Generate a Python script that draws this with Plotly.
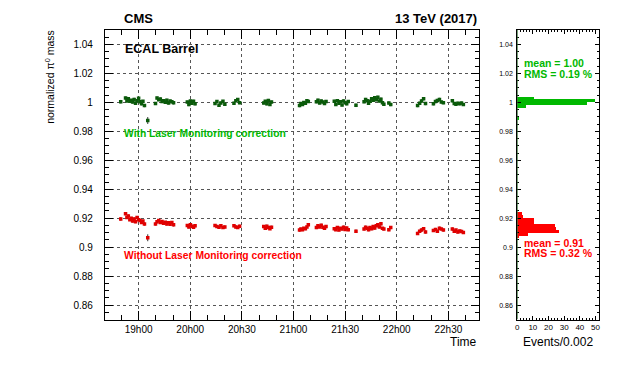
import plotly.graph_objects as go

# minutes after the first "19h00" tick; the tick labels are copied as printed
tick_minutes = [0, 30, 60, 90, 120, 150, 180]
tick_labels = ["19h00", "20h00", "20h30", "21h00", "21h30", "22h00", "22h30"]

time_min = [
    -10.4,
    -7.6, -6.8, -6.0, -5.1, -4.3, -3.5, -2.6, -1.8, -0.9, 0.0, 0.8, 1.7, 2.5, 3.4,
    5.3,
    9.8, 10.7, 11.7, 12.6, 13.6, 14.5, 15.5, 16.4, 17.4, 18.3, 19.3, 20.3,
    28.3, 29.2, 30.1, 31.0, 31.9, 32.8,
    44.4, 45.5, 46.7, 47.8, 49.0, 50.1,
    55.4, 56.5, 57.6, 58.7,
    72.7, 73.6, 74.5, 75.4, 76.3, 77.2,
    93.5, 94.3, 95.2, 96.0, 96.9, 97.8, 98.6,
    103.3, 104.2, 105.2, 106.1, 107.1, 108.0, 108.9,
    113.7, 114.6, 115.5, 116.4, 117.3, 118.2, 119.1, 120.0, 120.9, 121.8,
    126.3,
    131.0, 131.9, 132.8, 133.6, 134.5, 135.4, 136.3, 137.2, 138.1, 139.0, 139.9, 140.8, 141.7, 142.5,
    145.4, 146.5,
    162.1, 163.3, 164.4, 165.6, 166.7,
    171.3, 172.5, 173.6, 174.8, 175.9, 177.1,
    182.3, 183.4, 184.4, 185.5, 186.6, 187.6, 188.7,
]

mass_corrected = [
    1.0005,
    1.0030, 1.0010, 1.0025, 1.0008, 1.0015, 1.0002, 1.0020, 0.9995, 1.0012, 1.0028, 1.0004, 0.9990, 1.0008, 0.9978,
    0.9875,
    0.9992, 1.0030, 1.0018, 1.0024, 1.0006, 1.0012, 1.0001, 1.0015, 0.9996, 1.0010, 1.0004, 0.9998,
    1.0002, 0.9985, 1.0010, 0.9995, 1.0008, 0.9990,
    0.9992, 1.0006, 0.9980, 0.9996, 1.0008, 0.9988,
    0.9995, 1.0012, 1.0020, 0.9998,
    0.9996, 1.0008, 0.9990, 1.0014, 0.9985, 1.0002,
    0.9978, 0.9992, 0.9985, 1.0000, 0.9994, 1.0012, 1.0006,
    1.0004, 1.0015, 0.9996, 1.0010, 1.0002, 0.9992, 1.0006,
    1.0008, 0.9985, 1.0012, 0.9994, 1.0004, 0.9982, 1.0010, 0.9998, 0.9990, 1.0006,
    0.9980,
    1.0004, 1.0020, 1.0012, 0.9995, 1.0008, 1.0026, 1.0015, 1.0032, 1.0018, 1.0035, 1.0010, 1.0022, 0.9998, 0.9988,
    0.9996, 0.9985,
    0.9978, 0.9995, 1.0010, 1.0025, 0.9992,
    0.9990, 1.0006, 1.0014, 1.0020, 1.0002, 0.9998,
    1.0012, 0.9992, 0.9988, 0.9994, 0.9990, 0.9996, 0.9986,
]

mass_uncorrected = [
    0.9195,
    0.9230, 0.9205, 0.9215, 0.9190, 0.9200, 0.9180, 0.9195, 0.9175, 0.9205, 0.9190, 0.9185, 0.9170, 0.9180, 0.9160,
    0.9065,
    0.9160, 0.9175, 0.9185, 0.9170, 0.9178, 0.9165, 0.9172, 0.9160, 0.9168, 0.9158, 0.9170, 0.9155,
    0.9150, 0.9140, 0.9155, 0.9145, 0.9138, 0.9148,
    0.9150, 0.9142, 0.9138, 0.9148, 0.9135, 0.9140,
    0.9148, 0.9140, 0.9135, 0.9145,
    0.9142, 0.9130, 0.9145, 0.9135, 0.9128, 0.9138,
    0.9118, 0.9125, 0.9120, 0.9130, 0.9128, 0.9140, 0.9155,
    0.9135, 0.9148, 0.9140, 0.9152, 0.9138, 0.9130, 0.9142,
    0.9128, 0.9120, 0.9135, 0.9118, 0.9130, 0.9125, 0.9138, 0.9122, 0.9132, 0.9120,
    0.9110,
    0.9125, 0.9138, 0.9130, 0.9120, 0.9135, 0.9128, 0.9142, 0.9132, 0.9148, 0.9155, 0.9140, 0.9162, 0.9130, 0.9125,
    0.9120, 0.9135,
    0.9095, 0.9110, 0.9118, 0.9128, 0.9105,
    0.9115, 0.9122, 0.9110, 0.9130, 0.9125, 0.9118,
    0.9125, 0.9110, 0.9118, 0.9105, 0.9112, 0.9108, 0.9102,
]

mass_error = [
    0.0012,
    0.0010, 0.0009, 0.0011, 0.0010, 0.0009, 0.0010, 0.0012, 0.0009, 0.0010, 0.0011, 0.0009, 0.0010, 0.0009, 0.0011,
    0.0024,
    0.0010, 0.0011, 0.0009, 0.0010, 0.0009, 0.0010, 0.0009, 0.0011, 0.0010, 0.0009, 0.0010, 0.0012,
    0.0010, 0.0011, 0.0009, 0.0010, 0.0010, 0.0011,
    0.0010, 0.0009, 0.0011, 0.0010, 0.0009, 0.0010,
    0.0010, 0.0011, 0.0009, 0.0010,
    0.0010, 0.0009, 0.0011, 0.0010, 0.0009, 0.0010,
    0.0011, 0.0010, 0.0009, 0.0010, 0.0011, 0.0009, 0.0010,
    0.0010, 0.0011, 0.0009, 0.0010, 0.0009, 0.0010, 0.0011,
    0.0010, 0.0009, 0.0011, 0.0010, 0.0009, 0.0010, 0.0011, 0.0009, 0.0010, 0.0010,
    0.0012,
    0.0010, 0.0011, 0.0009, 0.0010, 0.0009, 0.0011, 0.0010, 0.0012, 0.0009, 0.0011, 0.0010, 0.0012, 0.0009, 0.0010,
    0.0010, 0.0011,
    0.0011, 0.0010, 0.0012, 0.0010, 0.0011,
    0.0010, 0.0011, 0.0010, 0.0012, 0.0009, 0.0010,
    0.0011, 0.0010, 0.0009, 0.0011, 0.0010, 0.0009, 0.0010,
]

# projections, 0.002 wide bins
bins_corrected = [0.989, 0.997, 0.999, 1.001, 1.003]
events_corrected = [1, 6, 45, 50, 11]
bins_uncorrected = [0.907, 0.909, 0.911, 0.913, 0.915, 0.917, 0.919, 0.921, 0.923]
events_uncorrected = [1, 7, 27, 25, 24, 11, 11, 4, 3]

FONT = "Liberation Sans, Arial, Helvetica, sans-serif"
GREEN = "#00b800"
DARK_GREEN = "#0a5a0a"
RED = "#ff0000"

fig = go.Figure()
for values, color in ((mass_corrected, DARK_GREEN), (mass_uncorrected, "#e00000")):
    fig.add_trace(go.Scatter(
        x=time_min,
        y=values,
        mode="markers",
        marker={"symbol": "square", "size": 3.5, "color": color, "line": {"width": 0}},
        error_y={"type": "data", "array": mass_error, "color": "black", "thickness": 0.8, "width": 0},
        xaxis="x", yaxis="y",
    ))
for centres, counts, color in (
    (bins_corrected, events_corrected, GREEN),
    (bins_uncorrected, events_uncorrected, RED),
):
    fig.add_trace(go.Bar(
        x=counts,
        y=centres,
        orientation="h",
        width=0.002,
        marker={"color": color, "line": {"width": 0}},
        xaxis="x2", yaxis="y2",
    ))

axis_common = dict(
    showline=True, linecolor="black", linewidth=1, mirror="allticks",
    ticks="inside", tickcolor="black", zeroline=False,
    tickfont={"family": FONT, "size": 10, "color": "black"},
)
fig.update_layout(
    width=623, height=384,
    margin={"l": 0, "r": 0, "t": 0, "b": 0},
    paper_bgcolor="white", plot_bgcolor="white",
    showlegend=False, bargap=0,
    font={"family": FONT},
    xaxis=dict(
        axis_common, domain=[0.1533, 0.758], range=[-19.6, 197.9],
        tickmode="array", tickvals=tick_minutes, ticktext=tick_labels,
        ticklen=9, showgrid=True, gridcolor="#555555", griddash="dot", gridwidth=1,
        minor={"dtick": 10, "tick0": 0, "ticks": "inside", "ticklen": 4.5, "tickcolor": "black"},
        anchor="y",
    ),
    yaxis=dict(
        axis_common, domain=[0.1887, 0.9426], range=[0.85, 1.05],
        dtick=0.02, tick0=0.86, ticklen=8, ticklabelstandoff=9,
        showgrid=True, gridcolor="#555555", griddash="dot", gridwidth=1,
        minor={"dtick": 0.005, "ticks": "inside", "ticklen": 4, "tickcolor": "black"},
        anchor="x",
    ),
    xaxis2=dict(
        axis_common, domain=[0.8194, 0.951], range=[0, 52],
        dtick=10, tick0=0, ticklen=4, showgrid=False,
        tickfont={"family": FONT, "size": 8, "color": "black"},
        minor={"dtick": 2, "ticks": "inside", "ticklen": 2, "tickcolor": "black"},
        anchor="y2",
    ),
    yaxis2=dict(
        axis_common, domain=[0.1887, 0.9426], range=[0.85, 1.05],
        dtick=0.02, tick0=0.86, ticklen=4, showgrid=False, ticklabelstandoff=2,
        tickfont={"family": FONT, "size": 7, "color": "black"},
        minor={"dtick": 0.005, "ticks": "inside", "ticklen": 2, "tickcolor": "black"},
        anchor="x2",
    ),
)
fig.add_shape(type="line", xref="x2", yref="y2", x0=0, x1=0, y0=0.85, y1=1.05,
              line={"color": "#2d6b2d", "width": 1.2})


def label(text, x, y, size, color="black", bold=False, xanchor="left", angle=0):
    fig.add_annotation(
        text=f"<b>{text}</b>" if bold else text,
        x=x, y=y, xref="paper", yref="paper",
        xanchor=xanchor, yanchor="middle", showarrow=False, textangle=angle,
        font={"family": FONT, "size": size, "color": color},
    )


label("CMS", 0.1814, 0.972, 13, bold=True)
label("13 TeV (2017)", 0.758, 0.972, 13, bold=True, xanchor="right")
label("ECAL Barrel", 0.183, 0.893, 12.5, bold=True)
label("With Laser Monitoring correction", 0.1814, 0.674, 10.3, GREEN, bold=True)
label("Without Laser Monitoring correction", 0.1814, 0.356, 10.3, RED, bold=True)
label("mean = 1.00", 0.827, 0.856, 10.5, GREEN, bold=True)
label("RMS = 0.19 %", 0.827, 0.829, 10.5, GREEN, bold=True)
label("mean = 0.91", 0.827, 0.388, 10.5, RED, bold=True)
label("RMS = 0.32 %", 0.827, 0.3616, 10.5, RED, bold=True)
label("Time", 0.758, 0.131, 12, xanchor="right")
label("Events/0.002", 0.885, 0.131, 12, xanchor="center")
label("normalized π<sup>0</sup> mass", 0.0626, 0.82, 10.5, xanchor="center", angle=-90)

fig.write_html("out.html")
